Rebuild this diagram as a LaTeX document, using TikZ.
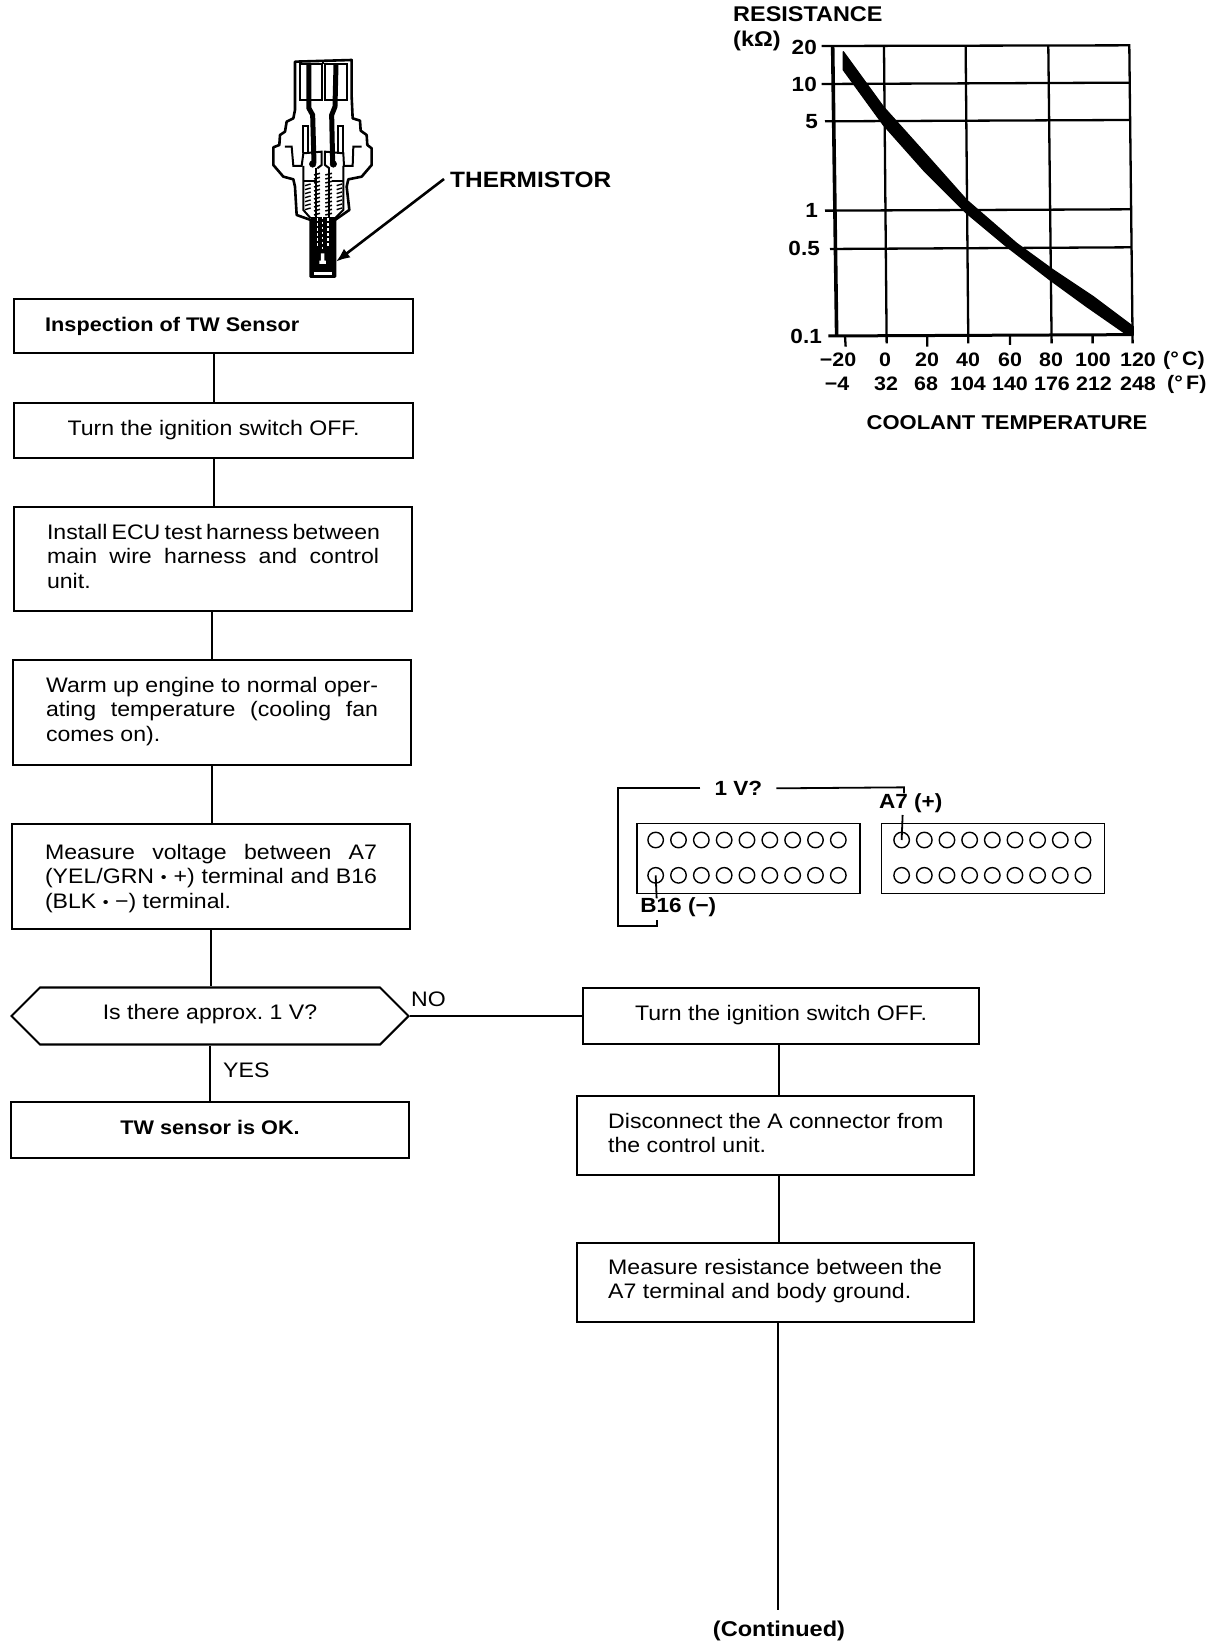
\documentclass[tikz,border=0pt]{standalone}
\usepackage{fontspec}
\setmainfont[FakeStretch=1.1]{Liberation Sans}
\usetikzlibrary{shapes.symbols,arrows.meta}
\newcommand{\jl}[1]{\makebox[332pt][s]{#1}}
\newcommand{\bdot}{{\fontsize{15}{15}\selectfont\raisebox{1pt}{•}}}
\tikzset{
 x=1pt,y=-1pt,
 every node/.style={font=\fontsize{21}{24.5}\selectfont,inner sep=0pt,text=black},
 box/.style={draw,line width=2.1pt,rectangle,anchor=north west,align=center,fill=white},
 lnk/.style={line width=2pt},
 gridl/.style={line width=2.3pt},
 lab/.style={font=\fontsize{20.5}{23}\bfseries\selectfont},
 boldbody/.style={font=\fontsize{19.7}{24}\bfseries\selectfont},
 plain/.style={line width=1.8pt},
 pin/.style={draw,circle,line width=1.4pt,minimum size=15.5pt},
 chartlab/.style={font=\fontsize{19.5}{22}\bfseries\selectfont},
 chartylab/.style={font=\fontsize{20.5}{22}\bfseries\selectfont},
 charthead/.style={font=\fontsize{21.3}{24}\bfseries\selectfont},
}
\newcommand{\mybox}[5]{\node[box,minimum width=#4pt,minimum height=#5pt] (#1) at (#2,#3) {};}
\begin{document}
\begin{tikzpicture}
\useasboundingbox (0,0) rectangle (1216,1648);
\fill[white] (0,0) rectangle (1216,1648);
% flow boxes
\mybox{b1}{13}{298}{399}{54}
\mybox{b2}{13}{402}{399}{55}
\mybox{b3}{13}{506}{398}{104}
\mybox{b4}{12}{659}{398}{105}
\mybox{b5}{11}{823}{398}{105}
\node[draw,line width=2.1pt,shape=signal,signal to=west and east,signal pointer angle=90,minimum width=397pt,minimum height=57pt,anchor=center] (h) at (210,1016) {};
\mybox{ok}{10}{1101}{398}{56}
\mybox{r1}{582}{987}{396}{56}
\mybox{r2}{576}{1095}{397}{79}
\mybox{r3}{576}{1242}{397}{79}
% flow text
\node[anchor=west,boldbody] (t1) at (45,326) {Inspection of TW Sensor};
\node (t2) at (b2.center) {Turn the ignition switch OFF.};
\node[align=left,yshift=3pt] (t3) at (b3.center) {\jl{Install ECU test harness between}\\\jl{main wire harness and control}\\unit.};
\node[align=left,yshift=1pt] (t4) at (b4.center) {\jl{Warm up engine to normal oper-}\\\jl{ating temperature (cooling fan}\\comes on).};
\node[align=left,yshift=-2pt] (t5) at (b5.center) {\jl{Measure voltage between A7}\\\jl{(YEL/GRN \bdot{} +) terminal and B16}\\(BLK \bdot{} −) terminal.};
\node[yshift=2pt] (t0) at (h.center) {Is there approx.\ 1 V?};
\node[boldbody,yshift=3pt] (t6) at (ok.center) {TW sensor is OK.};
\node[yshift=1pt] (t7) at (r1.center) {Turn the ignition switch OFF.};
\node[anchor=west,align=left] (t8) at (608,1133) {Disconnect the A connector from\\the control unit.};
\node[anchor=west,align=left] (t9) at (608,1281) {Measure resistance between the\\A7 terminal and body ground.};
\node[anchor=west] (no) at (411,999) {NO};
\node[anchor=west] (yes) at (223,1070) {YES};
\node[font=\fontsize{21.4}{24}\bfseries\selectfont] (cont) at (779,1631) {(Continued)};
% links
\draw[lnk] (b1.south) -- (b1.south |- b2.north);
\draw[lnk] (b2.south) -- (b2.south |- b3.north);
\draw[lnk] ([xshift=-1pt]b3.south) -- ([xshift=-1pt]b3.south |- b4.north);
\draw[lnk] (b4.south) -- (b4.south |- b5.north);
\draw[lnk] (b5.south) -- (b5.south |- h.north);
\draw[lnk] (h.south) -- (h.south |- ok.north);
\draw[lnk] (h.east) -- (h.east -| r1.west);
\draw[lnk] ([xshift=-2pt]r1.south) -- ([xshift=-2pt]r1.south |- r2.north);
\draw[lnk] ([xshift=3.5pt]r2.south) -- ([xshift=3.5pt]r2.south |- r3.north);
\draw[lnk] ([xshift=2.5pt]r3.south) -- ([xshift=2.5pt,yshift=11pt]r3.south |- cont.north);
% sensor
\begin{scope}[x=0.3333pt,y=-0.3333pt,shift={(240pt,-40pt)}]
\draw[line width=2.6pt,line join=round] (165,65) -- (335,60) -- (335,170) -- (338,235) -- (360,242) -- (362,272) -- (380,285) -- (382,315) -- (395,325) -- (395,375) -- (365,410) -- (325,418) -- (320,440) -- (328,510) -- (285,540) -- (285,710) -- (212,710) -- (212,540) -- (170,525) -- (165,440) -- (160,418) -- (130,410) -- (100,375) -- (100,322) -- (118,315) -- (120,285) -- (135,275) -- (140,245) -- (160,235) -- (165,210) -- cycle;
\draw[line width=2.2pt] (180,72) rectangle (245,180) (255,72) rectangle (320,180);
\draw[line width=2pt] (250,62) -- (250,72);
\draw[line width=5pt] (207,75) -- (207,205) -- (218,225) -- (222,370);
\draw[line width=5pt] (288,75) -- (285,200) -- (275,225) -- (278,370);
\draw[line width=2pt] (190,340) -- (190,258) -- (205,258) -- (205,340) (293,340) -- (293,258) -- (308,258) -- (308,340);
\draw[line width=2pt] (135,320) -- (155,320) -- (160,378) -- (185,378) -- (190,340) -- (245,335) -- (245,375) -- (232,385);
\draw[line width=2pt] (365,320) -- (340,320) -- (338,378) -- (312,378) -- (310,340) -- (255,335) -- (255,375) -- (268,385);
\draw[line width=2pt] (190,378) -- (190,510) -- (212,535) (310,378) -- (310,510) -- (285,535);
\draw[line width=2pt] (190,422) -- (225,422) (275,422) -- (310,422);
\draw[fill=black] (218,372) circle (10) (280,372) circle (10);
\foreach \yy in {432,444,...,504}{\draw[line width=1.4pt] (195,\yy+5) -- (212,\yy) (290,\yy+5) -- (306,\yy);}
% inner wires and coil
\draw[line width=2pt] (228,385) -- (228,530) (268,385) -- (268,530);
\foreach \yy in {400,412,...,530}{\draw[line width=1.5pt] (222,\yy+5) -- (240,\yy) (256,\yy+5) -- (276,\yy);}
% tube
\fill (212,530) rectangle (285,710);
\fill[white] (222,695) rectangle (275,704);
\draw[white,line width=1.6pt,dash pattern=on 2.5pt off 2.5pt] (232,535) -- (232,625) (248,530) -- (248,630) (264,535) -- (264,620);
\fill[white] (243,640) rectangle (253,662) (238,662) rectangle (258,672);
\coordinate (ttip) at (288,665);
\end{scope}
\node[anchor=west,font=\fontsize{22.2}{24}\bfseries\selectfont] (th) at (450,180) {THERMISTOR};
\draw[line width=2.6pt,-{Latex[length=14pt,width=11pt]}] ([xshift=-6pt,yshift=1pt]th.west) -- (ttip);
% chart
\begin{scope}[x=0.3333pt,y=-0.3333pt,shift={(720pt,0pt)}]
\draw[line width=3.6pt] (338,138) -- (350,1008);
\draw[gridl] (305,138) -- (1228,136) -- (1238,1030);
\draw[line width=3pt] (325,1008) -- (1240,1004);
\draw[gridl] (492,138) -- (500,1030);
\draw[gridl] (737,138) -- (745,1030);
\draw[gridl] (985,138) -- (995,1030);
\draw[gridl] (305,252) -- (1228,248);
\draw[gridl] (315,364) -- (1230,360);
\draw[gridl] (315,632) -- (1232,628);
\draw[gridl] (330,747) -- (1234,742);
\draw[gridl] (375,1008) -- (377,1040) (622,1008) -- (622,1040) (870,1008) -- (870,1035) (1118,1006) -- (1118,1030);
\filldraw[line width=1.2pt,line join=round] (370,155) -- (490,320) -- (620,465) -- (740,600) -- (890,730) -- (1000,810) -- (1120,890) -- (1240,980) -- (1240,1005) -- (1215,1000) -- (1100,920) -- (990,840) -- (860,740) -- (740,640) -- (610,510) -- (490,375) -- (370,210) -- cycle;
\end{scope}
\node[anchor=west,charthead] (rs) at (733,14) {RESISTANCE};
\node[anchor=west,charthead] (kk) at (733,41) {(kΩ)};
\foreach \nm/\txt/\xx/\yy in {a/20/817/47,b/10/817/84,c/5/818/122,d/1/818/210,e/0.5/820/248,f/0.1/822/336}{
 \node[anchor=east,chartylab] (y\nm) at (\xx,\yy) {\txt};}
\foreach \nm/\txt/\xx in {a/−20/838,b/0/885,c/20/927,d/40/968,e/60/1010,f/80/1051,g/100/1093,h/120/1138}{
 \node[chartlab] (xc\nm) at (\xx,360) {\txt};}
\node[anchor=west,chartlab] (cc) at (1163,360) {(°\,C)};
\foreach \nm/\txt/\xx in {a/−4/837,b/32/886,c/68/926,d/104/968,e/140/1010,f/176/1052,g/212/1094,h/248/1138}{
 \node[chartlab] (xf\nm) at (\xx,384) {\txt};}
\node[anchor=west,chartlab] (ff) at (1167,384) {(°\,F)};
\node[font=\fontsize{20}{24}\bfseries\selectfont] (ct) at (1007,423) {COOLANT TEMPERATURE};
% connectors diagram
\begin{scope}[x=0.3333pt,y=-0.3333pt,shift={(600pt,-770pt)}]
\node[draw,plain,rectangle,anchor=north west,minimum width=223pt,minimum height=70pt] (c1) at (108,158) {};
\node[draw,plain,rectangle,anchor=north west,minimum width=223pt,minimum height=70pt] (c2) at (842,158) {};
\foreach \i in {0,...,8}{
 \node[pin] (pa\i) at ({167+68.5*\i},210) {};
 \node[pin] (pb\i) at ({167+68.5*\i},316) {};
 \node[pin] (qa\i) at ({905+68*\i},210) {};
 \node[pin] (qb\i) at ({905+68*\i},316) {};
}
\node[lab] (v) at (415,55) {1 V?};
\node[lab] (a7) at (932,100) {A7 (+)};
\node[lab] (b16) at (235,412) {B16 (−)};
\draw[plain] ([xshift=-14pt]v.west) -- (55,55) -- (55,468) -- (170,468) -- (170,450);
\draw[plain] ([xshift=14pt]v.east) -- (912,52) -- (912,70);
\draw[plain] (pb0.center) -- (170,385);
\draw[plain] (qa0.center) -- (908,135);
\end{scope}
\end{tikzpicture}
\end{document}
